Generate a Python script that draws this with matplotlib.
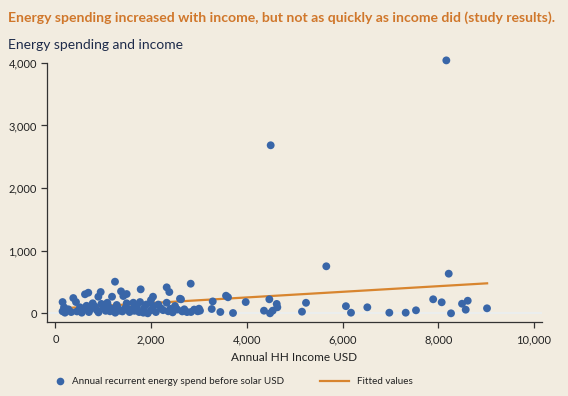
import matplotlib
matplotlib.use("Agg")
import matplotlib.pyplot as plt
from matplotlib.lines import Line2D
from matplotlib.ticker import FuncFormatter

# ---- data ----
income = [150, 180, 150, 270, 374, 430, 514, 583, 618, 687, 723, 779, 863, 897, 946,
          1001, 1085, 1141, 1183, 1245, 1281, 1335, 1371, 1419, 1454, 1489, 1489, 1580,
          1628, 1768, 1782, 1837, 1929, 1997, 2039, 2046, 2206, 2325, 2325, 2359, 2380,
          2499, 2603, 2624, 2693, 2827, 2833, 2973, 3000, 3021, 3266, 3287, 3446, 3565,
          3606, 3711, 3976, 4358, 4470, 4484, 4498, 4540, 4624, 4637, 5152, 5236, 5660,
          6070, 6176, 6517, 6977, 7319, 7534, 7893, 8071, 8168, 8218, 8266, 8496, 8615,
          8573, 9018,
          200, 330, 450, 550, 650, 700, 820, 900, 960, 1050, 1100, 1200, 1250, 1300, 1400,
          1500, 1550, 1650, 1700, 1750, 1850, 1900, 2000, 2100, 2150, 2250, 2400, 2450,
          2550, 2650, 2750, 2900]
spend = [180, 96, 32, 64, 244, 180, 96, 53, 304, 329, 64, 160, 53, 265, 340,
         96, 169, 32, 265, 505, 133, 42, 351, 276, 80, 308, 160, 64,
         169, 180, 383, 10, 0, 212, 265, 117, 80, 415, 169, 32, 340,
         117, 233, 224, 64, 473, 21, 32, 74, 42, 69, 190, 21, 281,
         256, 5, 180, 42, 224, 0, 2684, 42, 150, 96, 26, 168, 751,
         114, 10, 96, 10, 10, 48, 224, 176, 4040, 633, 0, 153, 201,
         58, 80,
         10, 20, 30, 10, 120, 20, 110, 15, 150, 40, 120, 70, 10, 90, 30,
         60, 20, 40, 110, 20, 80, 140, 50, 20, 140, 50, 70, 15,
         60, 30, 20, 60]
fitted_income = [132, 9020]
fitted_spend = [80, 479]

x_ticks = [0, 2000, 4000, 6000, 8000, 10000]
y_ticks = [0, 1000, 2000, 3000, 4000]

title = "Energy spending increased with income, but not as quickly as income did (study results)."
y_title = "Energy spending and income"
x_title = "Annual HH Income USD"
legend_scatter = "Annual recurrent energy spend before solar USD"
legend_line = "Fitted values"

# ---- style ----
BG = "#F2ECE0"
BLUE = "#3966A8"
ORANGE = "#D8852F"
TITLE_C = "#D0772B"
NAVY = "#1E2B4A"
TXT = "#222222"
plt.rcParams['font.family'] = ['Lato', 'DejaVu Sans']

W, H = 568, 396
fig = plt.figure(figsize=(W / 100, H / 100), dpi=100, facecolor=BG)

left_px, right_px, top_px, bottom_px = 46.7, 542, 55, 321.7
ax = fig.add_axes([left_px / W, 1 - bottom_px / H,
                   (right_px - left_px) / W, (bottom_px - top_px) / H])
ax.set_facecolor(BG)
ax.set_xlim(-182, 10167)
ax.set_ylim(-134, 4126)

ax.axhline(0, color="#EAEFF1", lw=1.2, zorder=1)
ax.plot(fitted_income, fitted_spend, color=ORANGE, lw=1.6, zorder=3)
ax.scatter(income, spend, s=32, color=BLUE, edgecolors='none', zorder=4)

for s in ['top', 'right']:
    ax.spines[s].set_visible(False)
for s in ['left', 'bottom']:
    ax.spines[s].set_color("#333333")
    ax.spines[s].set_linewidth(0.9)
ax.spines['left'].set_bounds(-134, 4000)

ax.set_xticks(x_ticks)
ax.set_yticks(y_ticks)
fmt = FuncFormatter(lambda v, p: f"{int(v):,}")
ax.xaxis.set_major_formatter(fmt)
ax.yaxis.set_major_formatter(fmt)
ax.tick_params(axis='both', length=4, width=0.9, color="#333333", labelsize=8,
               labelcolor=TXT)
ax.tick_params(axis='x', pad=5)
ax.tick_params(axis='y', pad=3)

ax.set_xlabel(x_title, fontsize=8.5, color=TXT, labelpad=5)

fig.text(8 / W, 1 - 18 / H, title, fontsize=10.1, fontweight='bold', color=TITLE_C,
         ha='left', va='center')
fig.text(8 / W, 1 - 45 / H, y_title, fontsize=10, color=NAVY, ha='left', va='center')

# legend
ly = 1 - 381 / H
fig.add_artist(Line2D([60 / W], [ly], marker='o', markersize=5.5, color=BLUE,
                      markeredgewidth=0, linestyle='none', transform=fig.transFigure))
fig.text(72 / W, ly, legend_scatter, fontsize=7.1, color=TXT, ha='left', va='center')
fig.add_artist(Line2D([320 / W, 349 / W], [ly, ly], color=ORANGE, lw=1.6,
                      transform=fig.transFigure))
fig.text(357 / W, ly, legend_line, fontsize=7.1, color=TXT, ha='left', va='center')

fig.savefig("out.png", dpi=100, facecolor=BG)
